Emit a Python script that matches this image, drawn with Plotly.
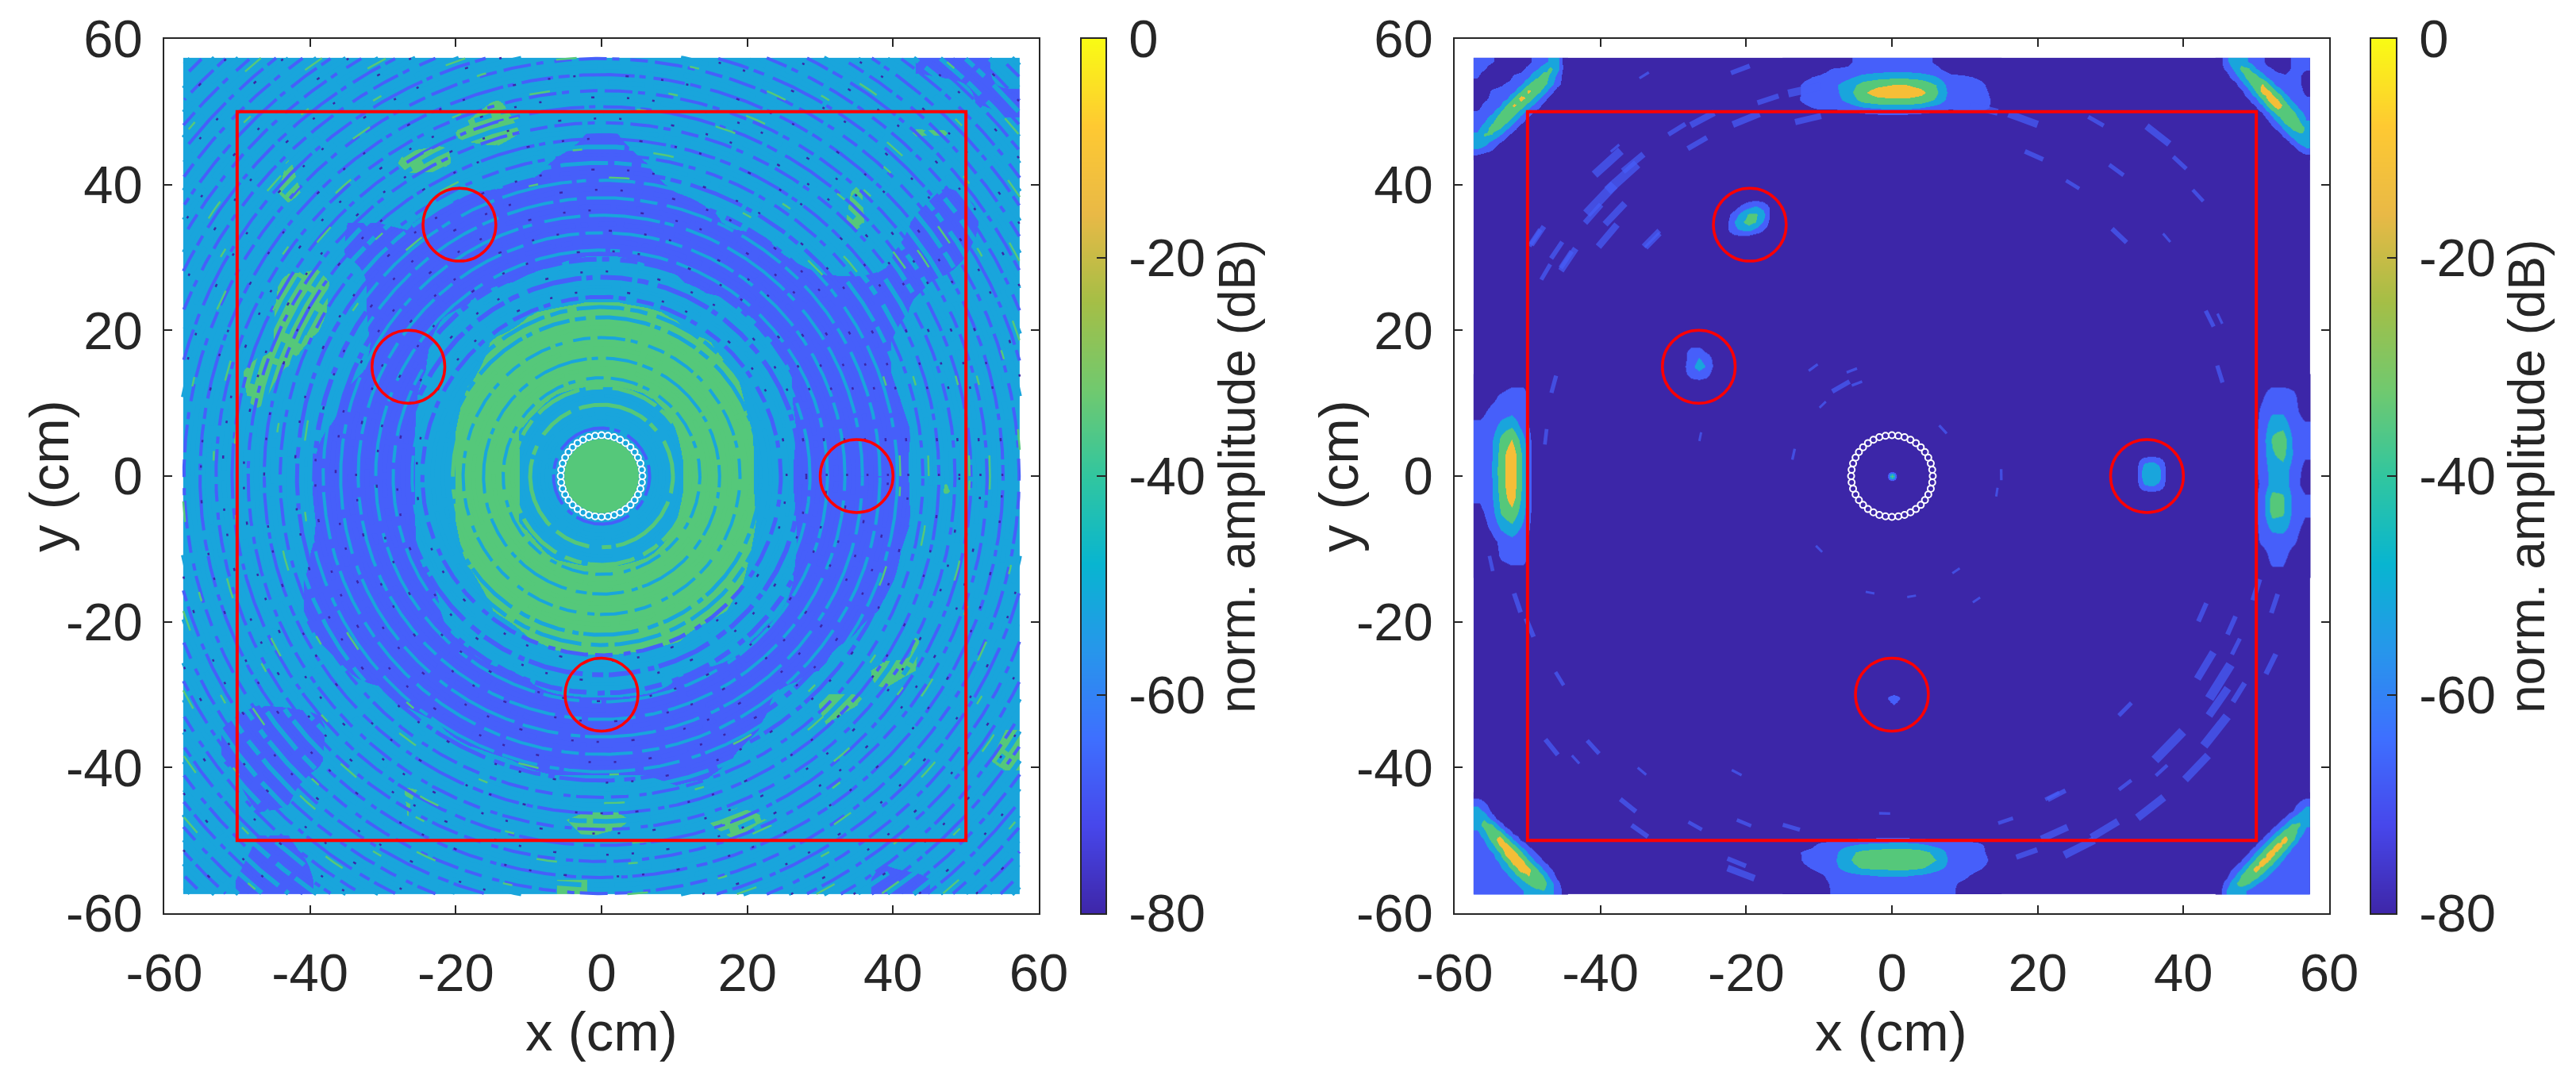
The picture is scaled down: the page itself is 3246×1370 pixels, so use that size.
# plot.py
import numpy as np
import plotly.graph_objects as go

W, H = 3246, 1370
TEXT = '#262626'

# smooth ramp for the colour bars
parula = [
    [0.0, 'rgb(62,38,168)'], [0.1, 'rgb(71,71,235)'], [0.2, 'rgb(62,111,255)'],
    [0.3, 'rgb(39,150,235)'], [0.4, 'rgb(8,181,208)'], [0.5, 'rgb(49,198,159)'],
    [0.6, 'rgb(113,201,110)'], [0.7, 'rgb(165,190,70)'], [0.8, 'rgb(233,185,70)'],
    [0.9, 'rgb(254,201,50)'], [1.0, 'rgb(249,251,20)'],
]
# the images themselves only show a few flat colour levels
level_edges = [-80, -72, -57, -42, -24, 0]
level_colours = ['rgb(60,38,168)', 'rgb(70,95,250)', 'rgb(25,165,220)', 'rgb(85,200,122)', 'rgb(245,190,55)']

ticks = [-60, -40, -20, 0, 20, 40, 60]
tick_text = ['-60', '-40', '-20', '0', '20', '40', '60']
cbar_ticks = [-80, -60, -40, -20, 0]
cbar_text = ['-80', '-60', '-40', '-20', '0']
image_half = 57.4

# red markers, same in both panels
red_cx = [-19.5, -26.5, 35, 0]
red_cy = [34.5, 15, 0, -30]
red_radius = 5
box_half = 50
disc_radius = 5.1

# circular array
array_x = [5.6, 5.53, 5.33, 4.99, 4.53, 3.96, 3.29, 2.54, 1.73, 0.88, 0, -0.88, -1.73, -2.54, -3.29, -3.96, -4.53, -4.99, -5.33, -5.53,
           -5.6, -5.53, -5.33, -4.99, -4.53, -3.96, -3.29, -2.54, -1.73, -0.88, 0, 0.88, 1.73, 2.54, 3.29, 3.96, 4.53, 4.99, 5.33, 5.53]
array_y = [0, 0.88, 1.73, 2.54, 3.29, 3.96, 4.53, 4.99, 5.33, 5.53, 5.6, 5.53, 5.33, 4.99, 4.53, 3.96, 3.29, 2.54, 1.73, 0.88,
           0, -0.88, -1.73, -2.54, -3.29, -3.96, -4.53, -4.99, -5.33, -5.53, -5.6, -5.53, -5.33, -4.99, -4.53, -3.96, -3.29, -2.54, -1.73, -0.88]

# left panel: broad level, top row first, 4.1 cm cells
left_z = [
    [-54, -53, -54, -54, -52, -50, -47, -45, -45, -48, -52, -54, -55, -57, -55, -53, -51, -52, -50, -48, -49, -51, -54, -56, -57, -58, -58, -56],
    [-50, -51, -54, -54, -52, -49, -47, -47, -46, -45, -41, -47, -52, -54, -53, -50, -48, -48, -49, -49, -50, -52, -54, -53, -50, -52, -57, -58],
    [-46, -50, -53, -52, -51, -50, -49, -48, -45, -40, -36, -44, -53, -57, -57, -53, -50, -50, -51, -52, -52, -53, -52, -50, -41, -41, -54, -56],
    [-47, -52, -53, -41, -50, -52, -50, -38, -38, -47, -50, -54, -58, -60, -60, -57, -54, -54, -55, -54, -52, -53, -50, -50, -50, -52, -55, -52],
    [-50, -50, -50, -38, -48, -54, -54, -50, -52, -57, -58, -59, -60, -60, -60, -59, -57, -56, -56, -54, -54, -52, -40, -50, -54, -58, -56, -50],
    [-48, -53, -56, -50, -54, -57, -57, -56, -61, -64, -62, -60, -60, -60, -60, -60, -60, -58, -56, -56, -54, -50, -38, -52, -58, -62, -58, -48],
    [-50, -54, -56, -52, -50, -58, -60, -60, -63, -65, -62, -60, -59, -58, -58, -59, -60, -60, -60, -58, -56, -54, -53, -56, -60, -60, -56, -50],
    [-52, -52, -50, -38, -36, -52, -60, -60, -60, -60, -58, -56, -54, -50, -50, -54, -56, -60, -60, -60, -59, -58, -58, -58, -58, -56, -54, -52],
    [-52, -50, -48, -37, -38, -52, -60, -60, -58, -56, -50, -43, -40, -38, -38, -40, -44, -52, -56, -60, -60, -60, -60, -60, -56, -54, -54, -54],
    [-50, -50, -46, -38, -44, -54, -58, -60, -56, -48, -40, -37, -36, -35, -35, -35, -37, -41, -48, -56, -60, -62, -60, -58, -52, -50, -54, -56],
    [-48, -46, -38, -43, -50, -56, -58, -60, -55, -44, -38, -36, -36, -37, -37, -36, -35, -37, -42, -52, -58, -62, -62, -58, -52, -44, -52, -56],
    [-50, -46, -40, -48, -52, -58, -60, -60, -50, -40, -37, -38, -44, -47, -47, -44, -38, -35, -39, -50, -58, -62, -62, -60, -54, -50, -52, -54],
    [-52, -52, -50, -52, -56, -60, -62, -60, -48, -38, -37, -44, -52, -54, -54, -52, -42, -35, -37, -46, -57, -62, -63, -62, -56, -52, -52, -54],
    [-54, -54, -52, -48, -58, -64, -63, -60, -48, -38, -36, -44, -50, -50, -50, -50, -44, -35, -36, -46, -58, -62, -64, -63, -55, -44, -48, -52],
    [-54, -54, -52, -44, -60, -66, -63, -60, -48, -38, -36, -44, -50, -50, -50, -50, -44, -35, -36, -46, -58, -62, -65, -64, -55, -41, -48, -52],
    [-52, -54, -52, -46, -58, -64, -62, -60, -48, -38, -37, -44, -52, -54, -54, -52, -42, -35, -36, -45, -57, -62, -64, -62, -56, -48, -52, -54],
    [-52, -52, -50, -54, -58, -60, -62, -60, -50, -40, -37, -38, -45, -48, -48, -44, -38, -35, -38, -46, -57, -62, -62, -60, -54, -52, -54, -54],
    [-50, -48, -52, -56, -58, -60, -62, -62, -56, -44, -38, -35, -35, -36, -36, -35, -35, -36, -40, -48, -58, -62, -60, -58, -54, -52, -52, -52],
    [-46, -42, -52, -56, -58, -60, -62, -62, -58, -48, -41, -36, -34, -34, -34, -34, -35, -38, -44, -54, -60, -62, -60, -56, -52, -50, -50, -50],
    [-50, -42, -52, -56, -57, -58, -60, -62, -60, -56, -50, -43, -38, -37, -37, -38, -41, -48, -54, -60, -62, -60, -56, -50, -41, -50, -52, -52],
    [-52, -50, -54, -56, -56, -57, -58, -60, -60, -60, -58, -56, -50, -48, -48, -50, -56, -58, -60, -60, -60, -56, -46, -38, -42, -52, -52, -50],
    [-52, -54, -56, -56, -56, -56, -56, -58, -60, -62, -60, -60, -59, -58, -58, -59, -60, -60, -60, -58, -52, -38, -41, -45, -50, -52, -50, -46],
    [-54, -58, -62, -60, -58, -54, -54, -54, -56, -60, -62, -62, -61, -60, -60, -60, -62, -62, -60, -56, -50, -43, -46, -50, -50, -50, -46, -42],
    [-54, -58, -62, -60, -58, -52, -52, -52, -52, -54, -56, -58, -60, -60, -60, -60, -62, -62, -56, -52, -48, -45, -50, -50, -50, -48, -44, -40],
    [-50, -54, -60, -58, -54, -52, -50, -41, -44, -52, -52, -54, -54, -54, -54, -54, -56, -54, -48, -46, -48, -50, -52, -52, -52, -50, -48, -46],
    [-50, -52, -56, -56, -53, -52, -50, -42, -50, -52, -52, -52, -44, -38, -38, -48, -48, -42, -38, -42, -50, -52, -54, -54, -54, -54, -52, -50],
    [-52, -54, -58, -58, -55, -53, -52, -52, -53, -54, -54, -52, -50, -44, -50, -52, -50, -46, -44, -50, -52, -54, -56, -56, -54, -54, -54, -52],
    [-54, -56, -60, -62, -56, -52, -46, -46, -50, -52, -52, -50, -42, -42, -50, -52, -52, -50, -50, -52, -54, -54, -56, -58, -58, -56, -56, -54],
]

# left panel: concentric fringes, radius in cm and level in dB
ring_radii = [6.6, 7.6, 8.6, 9.8, 11, 12.2, 13.5, 14.8, 16.2, 17.6, 19, 20.4, 21.8, 23.2, 24.6, 26, 27.3, 28.6, 29.8, 31, 32.2, 33.4, 34.6,
              35.8, 37, 38.2, 39.4, 40.6, 41.8, 43, 44.1, 45.2, 46.3, 47.4, 48.5, 49.6, 50.7, 51.8, 52.9, 54, 55.1, 56.2, 57.3, 58.4, 59.5,
              60.6, 61.7, 62.8, 63.9, 65, 66.1, 67.2, 68.3, 69.4, 70.5, 71.6, 72.7, 73.8, 74.9, 76, 77.1, 78.2, 79.3, 80.4]
ring_db = [-60, -45, -55, -36, -50, -35, -48, -34, -46, -34, -46, -36, -50, -44, -60, -50, -66, -50, -66, -50, -66, -50, -66,
           -50, -66, -50, -66, -50, -64, -48, -66, -48, -66, -46, -66, -46, -66, -46, -66, -46, -66, -46, -66, -46, -66,
           -46, -66, -46, -66, -46, -66, -46, -66, -46, -66, -46, -66, -46, -66, -46, -66, -46, -66, -46]
ring_widths = [4, 4, 4, 5, 4, 5, 4, 5, 4, 5, 4, 5, 5, 5, 5, 4, 6, 4, 6, 4, 6, 4, 6,
               4, 6, 4, 6, 4, 5, 5, 4, 6, 4, 6, 4, 6, 4, 6, 4, 6, 4, 6, 4, 6, 4,
               6, 4, 6, 4, 6, 4, 6, 4, 6, 4, 6, 4, 6, 4, 6, 4, 6, 4, 6]
ring_dashes = ['14px,7px,40px,10px,8px,6px,70px,12px', '60px,12px,22px,8px', '22px,14px,9px,7px,35px,9px', '46px,16px,12px,6px,90px,11px']

# left panel: dark specks and bright streaks along the fringes
speck_ring_radii = [25.4, 28.1, 30.9, 33.7, 36.5, 39.3, 42.1, 46.3, 49.1, 52, 55, 59, 63, 67, 72, 77]
streak_ring_radii = [12.8, 15.5, 18.3, 41, 44.9, 50.5, 53.3, 57.5, 60.3, 64.5, 69, 74]

# right panel: hot spots, top row first
top_z = [
    [-80, -80, -80, -80, -74, -66, -66, -66, -66, -66, -74, -80, -80, -80, -80],
    [-80, -80, -78, -70, -70, -66, -64, -62, -62, -66, -68, -78, -80, -80, -80],
    [-80, -74, -70, -66, -60, -52, -48, -46, -46, -48, -56, -68, -70, -74, -80],
    [-78, -70, -66, -60, -50, -35, -28, -24, -24, -30, -42, -64, -66, -68, -78],
    [-78, -70, -66, -62, -48, -28, -14, -10, -10, -18, -38, -62, -64, -66, -76],
    [-76, -70, -66, -64, -52, -36, -30, -28, -28, -32, -44, -64, -64, -66, -74],
    [-80, -74, -70, -70, -66, -58, -54, -52, -52, -56, -64, -70, -66, -68, -74],
    [-80, -80, -78, -80, -80, -76, -74, -74, -74, -76, -78, -80, -76, -74, -78],
]
bottom_z = [
    [-80, -80, -78, -78, -76, -76, -74, -74, -74, -76, -76, -78, -78, -78, -80],
    [-80, -78, -70, -66, -60, -54, -52, -50, -50, -54, -62, -66, -66, -70, -78],
    [-78, -70, -68, -62, -46, -38, -36, -35, -35, -37, -46, -62, -64, -68, -78],
    [-80, -70, -66, -60, -44, -34, -31, -30, -30, -32, -42, -60, -62, -66, -76],
    [-80, -74, -68, -62, -48, -40, -38, -36, -36, -40, -50, -62, -66, -70, -78],
    [-80, -78, -74, -68, -62, -58, -56, -56, -56, -58, -64, -68, -70, -76, -80],
    [-80, -80, -76, -70, -70, -66, -66, -64, -64, -66, -68, -70, -74, -80, -80],
    [-80, -80, -78, -70, -70, -66, -66, -66, -66, -66, -66, -70, -76, -80, -80],
]
left_edge_z = [
    [-80, -80, -80, -76, -76, -80], [-80, -76, -70, -66, -66, -80], [-76, -70, -66, -62, -66, -80], [-70, -68, -52, -46, -64, -80],
    [-66, -62, -38, -24, -52, -80], [-66, -62, -34, -10, -46, -80], [-66, -60, -32, -10, -46, -80], [-66, -62, -32, -10, -46, -80],
    [-70, -62, -36, -14, -48, -80], [-76, -66, -40, -30, -52, -80], [-80, -70, -54, -46, -60, -80], [-80, -78, -68, -62, -68, -80],
    [-80, -80, -70, -66, -66, -80], [-80, -80, -78, -76, -76, -80],
]
right_edge_z = [
    [-80, -76, -76, -76, -76, -80], [-80, -74, -66, -66, -70, -80], [-80, -70, -60, -60, -68, -78], [-80, -68, -48, -48, -66, -70],
    [-80, -66, -40, -32, -62, -68], [-80, -66, -44, -36, -60, -70], [-80, -66, -50, -48, -64, -76], [-80, -70, -50, -48, -66, -78],
    [-80, -66, -36, -40, -62, -70], [-80, -66, -36, -40, -62, -70], [-80, -68, -52, -50, -66, -76], [-80, -70, -66, -66, -70, -80],
    [-80, -78, -68, -68, -78, -80], [-80, -76, -74, -74, -80, -80],
]
corner_tl_z = [
    [-66, -66, -70, -80, -80, -80, -80, -78, -66, -62, -54, -52, -80],
    [-66, -70, -80, -80, -80, -80, -78, -66, -60, -50, -38, -50, -80],
    [-70, -80, -80, -80, -80, -70, -66, -60, -48, -34, -44, -62, -80],
    [-80, -80, -80, -76, -70, -66, -60, -46, -28, -34, -50, -66, -80],
    [-80, -80, -70, -66, -66, -60, -44, -20, -30, -48, -64, -80, -80],
    [-80, -76, -68, -66, -60, -42, -16, -30, -48, -64, -78, -80, -80],
    [-78, -68, -66, -60, -40, -20, -32, -48, -62, -76, -80, -80, -80],
    [-70, -66, -60, -44, -26, -34, -50, -64, -76, -80, -80, -80, -80],
    [-66, -60, -48, -30, -36, -50, -66, -76, -80, -80, -80, -80, -80],
    [-62, -50, -36, -38, -52, -66, -78, -80, -80, -80, -80, -80, -80],
    [-54, -40, -42, -54, -68, -78, -80, -80, -80, -80, -80, -80, -80],
    [-46, -48, -60, -70, -78, -80, -80, -80, -80, -80, -80, -80, -80],
    [-56, -62, -70, -80, -80, -80, -80, -80, -80, -80, -80, -80, -80],
    [-76, -80, -80, -80, -80, -80, -80, -80, -80, -80, -80, -80, -80],
]
corner_tr_z = [
    [-80, -60, -48, -46, -58, -66, -70, -80, -80, -80, -70, -66, -66],
    [-80, -68, -54, -38, -40, -56, -66, -70, -76, -78, -70, -66, -70],
    [-80, -78, -64, -48, -34, -36, -52, -64, -68, -70, -66, -70, -80],
    [-80, -80, -78, -62, -46, -28, -24, -46, -64, -66, -66, -70, -80],
    [-80, -80, -80, -74, -60, -40, -14, -24, -46, -62, -66, -66, -78],
    [-80, -80, -80, -80, -70, -58, -36, -12, -26, -48, -62, -66, -70],
    [-80, -80, -80, -80, -80, -70, -56, -30, -12, -34, -50, -62, -66],
    [-80, -80, -80, -80, -80, -80, -70, -54, -34, -26, -36, -52, -62],
    [-80, -80, -80, -80, -80, -80, -80, -68, -52, -34, -30, -42, -58],
    [-80, -80, -80, -80, -80, -80, -80, -78, -66, -50, -38, -34, -46],
    [-80, -80, -80, -80, -80, -80, -80, -80, -80, -64, -50, -44, -42],
    [-80, -80, -80, -80, -80, -80, -80, -80, -80, -80, -66, -52, -46],
    [-80, -80, -80, -80, -80, -80, -80, -80, -80, -80, -80, -68, -58],
    [-80, -80, -80, -80, -80, -80, -80, -80, -80, -80, -80, -80, -76],
]
corner_bl_z = [
    [-76, -80, -80, -80, -80, -80, -80, -80, -80, -80, -80, -80, -80],
    [-62, -70, -80, -80, -80, -80, -80, -80, -80, -80, -80, -80, -80],
    [-50, -60, -76, -80, -80, -80, -80, -80, -80, -80, -80, -80, -80],
    [-42, -44, -64, -80, -80, -80, -80, -80, -80, -80, -80, -80, -80],
    [-50, -36, -38, -62, -78, -80, -80, -80, -80, -80, -80, -80, -80],
    [-60, -46, -28, -36, -60, -76, -80, -80, -80, -80, -80, -80, -80],
    [-66, -56, -36, -14, -34, -58, -74, -80, -80, -80, -80, -80, -80],
    [-66, -62, -50, -26, -12, -34, -56, -70, -80, -80, -80, -80, -80],
    [-66, -66, -60, -46, -16, -12, -34, -56, -70, -80, -80, -80, -80],
    [-66, -66, -62, -56, -40, -14, -14, -36, -58, -70, -80, -80, -80],
    [-66, -70, -66, -60, -52, -36, -14, -18, -38, -58, -70, -80, -80],
    [-70, -66, -66, -66, -60, -50, -36, -24, -26, -42, -62, -76, -80],
    [-66, -70, -66, -70, -66, -60, -50, -40, -32, -34, -50, -68, -80],
    [-66, -66, -70, -66, -70, -66, -60, -52, -46, -42, -50, -66, -76],
]
corner_br_z = [
    [-80, -80, -80, -80, -80, -80, -80, -80, -80, -80, -80, -80, -76],
    [-80, -80, -80, -80, -80, -80, -80, -80, -80, -80, -80, -70, -62],
    [-80, -80, -80, -80, -80, -80, -80, -80, -80, -80, -74, -60, -50],
    [-80, -80, -80, -80, -80, -80, -80, -80, -80, -70, -56, -44, -50],
    [-80, -80, -80, -80, -80, -80, -80, -80, -70, -54, -38, -40, -56],
    [-80, -80, -80, -80, -80, -80, -80, -70, -52, -32, -28, -50, -62],
    [-80, -80, -80, -80, -80, -80, -70, -52, -32, -16, -36, -58, -66],
    [-80, -80, -80, -80, -80, -70, -52, -32, -14, -32, -56, -66, -66],
    [-80, -80, -80, -80, -70, -52, -34, -14, -30, -54, -64, -66, -70],
    [-80, -80, -80, -70, -54, -34, -14, -28, -52, -62, -66, -70, -66],
    [-80, -80, -70, -56, -36, -16, -30, -50, -60, -66, -70, -66, -66],
    [-80, -76, -60, -40, -26, -34, -50, -60, -66, -70, -66, -70, -66],
    [-80, -66, -46, -34, -40, -54, -62, -66, -70, -66, -70, -66, -66],
    [-80, -56, -44, -50, -60, -66, -70, -66, -66, -70, -66, -66, -66],
]
spot_a_z = [
    [-80, -80, -80, -76, -74, -76, -80],
    [-80, -80, -68, -60, -54, -62, -74],
    [-78, -66, -52, -40, -40, -50, -74],
    [-76, -58, -44, -36, -42, -58, -76],
    [-74, -62, -54, -50, -60, -70, -80],
    [-80, -76, -74, -76, -80, -80, -80],
]
spot_b_z = [
    [-80, -76, -76, -80, -80], [-76, -66, -66, -74, -80], [-76, -64, -56, -62, -76],
    [-74, -60, -52, -58, -74], [-76, -64, -60, -66, -78], [-80, -76, -74, -76, -80],
]
spot_c_z = [
    [-80, -76, -74, -76, -80], [-76, -58, -54, -60, -76], [-74, -50, -48, -52, -74],
    [-74, -50, -48, -52, -74], [-76, -58, -54, -60, -76], [-80, -76, -74, -76, -80],
]
spot_d_z = [
    [-80, -76, -74, -76, -80], [-80, -70, -66, -70, -80], [-80, -74, -68, -74, -80], [-80, -80, -76, -80, -80],
]
spot_centre_z = [
    [-80, -76, -74, -76, -80], [-76, -52, -42, -52, -76], [-74, -42, -33, -42, -74],
    [-76, -52, -42, -52, -76], [-80, -76, -74, -76, -80],
]

# right panel: faint streaks, position in cm and length in px
speck_x = [-39, -37, -35.5, -40, -38, -41, -39, -33, -44.7, -46, -48.6, -47.5, -26.7, -20, -20.8, -11.5, -12, -17, -26, -29.5, -34, -38,
           18, 12.6, 28, 19.5, 36.5, 30.8, 39.5, 24.8, 31.2, 37.7, 42, -49, -44.4, -32.8,
           -7, -5.5, -4.8, -10.8, -9.5, -26.3, 7, -13.5, 15, 14.4, 8.8, 2.7, 11.6, -10, -3,
           43, 45, 44.8, 47.6, 52, 50, 52.5, 46.6, 47.2, 42.6, 32, 38, 44.4, 41.8, 35.5, 22.6, 22.3, 29.2, 25.7, 18.5, 37, 32, 15.6,
           -46.7, -41, -45.6, -43.4, -34.3, -21.3, -36.2, -34.6, -27, -20.3, -13.8, -20.7, -21.3, 22, -1,
           -51.4, -49.7, -47.5, -46.4, -55, 45, 43.6, 45]
speck_y = [43, 41, 43, 38, 36, 36, 33, 32.6, 29.7, 31, 33, 28, 45.7, 49, 55.8, 49, 53, 51.7, 49, 47.6, 55, 45,
           49, 50.4, 48.7, 44, 46.8, 42, 43, 40, 33, 32.7, 38.5, 32.7, 29.7, 32.3,
           12.3, 14.5, 12.7, 14.9, 9.8, 5.4, 6.4, 3, 0.2, -2.2, -13, -16.5, -17, -10, -16,
           -26, -28.2, -31, -29.7, -25.8, -15.6, -17.5, -20.5, -23.4, -18.7, -32, -37, -35, -40, -45.5, -43.8, -49, -48.5, -51, -51.8, -40.4, -42.4, -47.3,
           -37.2, -37.2, -27.8, -38.9, -40.5, -40.7, -45.2, -48.7, -48, -47.6, -48.2, -54.5, -53, -43.9, -46.3,
           -17.4, -20.8, 5.4, 12.6, -12, 21.6, 21.6, 14]
speck_size = [32, 36, 24, 36, 26, 22, 26, 20, 18, 18, 20, 16, 20, 26, 18, 24, 30, 20, 24, 18, 10, 10,
              28, 26, 16, 18, 26, 16, 16, 14, 18, 10, 14, 18, 24, 18,
              18, 10, 10, 10, 8, 8, 10, 10, 10, 8, 8, 8, 8, 8, 8,
              28, 36, 30, 20, 20, 20, 18, 18, 16, 18, 16, 36, 34, 30, 30, 18, 26, 28, 30, 20, 14, 14, 14,
              18, 16, 14, 10, 10, 10, 18, 18, 14, 14, 16, 26, 18, 14, 10,
              18, 18, 14, 16, 14, 10, 16, 16]


def level_colour(db):
    for edge, colour in zip(level_edges[1:], level_colours):
        if db < edge:
            return colour
    return level_colours[-1]


def stepped_scale():
    scale = []
    for i, colour in enumerate(level_colours):
        scale.append([(level_edges[i] + 80) / 80, colour])
        scale.append([(level_edges[i + 1] + 80) / 80, colour])
    return scale


def add_patch(fig, z, x_left, y_top, dx, dy, xaxis, yaxis, coloraxis):
    # z comes top row first
    n_rows = len(z)
    fig.add_trace(go.Heatmap(
        z=z[::-1],
        x0=x_left + dx / 2, dx=dx,
        y0=y_top - dy * (n_rows - 0.5), dy=dy,
        zsmooth='best',
        xaxis=xaxis, yaxis=yaxis, coloraxis=coloraxis,
        hoverinfo='skip'
    ))


theta = np.linspace(0, 2 * np.pi, 1400)


def add_ring(fig, radius, colour, width, dash):
    rx = radius * np.cos(theta)
    ry = radius * np.sin(theta)
    outside = (np.abs(rx) > image_half) | (np.abs(ry) > image_half)
    rx[outside] = np.nan
    ry[outside] = np.nan
    fig.add_trace(go.Scatter(
        x=rx, y=ry, mode='lines', line=dict(color=colour, width=width, dash=dash),
        xaxis='x', yaxis='y', hoverinfo='skip', showlegend=False
    ))


fig = go.Figure()

# Left panel
add_patch(fig, left_z, -image_half, image_half, 4.1, 4.1, 'x', 'y', 'coloraxis')

for i, radius in enumerate(ring_radii):
    add_ring(fig, radius, level_colour(ring_db[i]), ring_widths[i], ring_dashes[i % len(ring_dashes)])
for radius in streak_ring_radii:
    add_ring(fig, radius, level_colour(-34), 2.5, '26px,90px,12px,150px')
for radius in speck_ring_radii:
    add_ring(fig, radius, level_colour(-76), 2.5, '3px,41px,4px,63px,3px,29px')

# Right panel
add_patch(fig, [[-80, -80], [-80, -80]], -image_half, image_half, image_half, image_half, 'x2', 'y2', 'coloraxis')
add_patch(fig, top_z, -15, image_half, 2, 1.05, 'x2', 'y2', 'coloraxis')
add_patch(fig, bottom_z, -15, -49, 2, 1.05, 'x2', 'y2', 'coloraxis')
add_patch(fig, left_edge_z, -image_half, 14, 1.5, 2, 'x2', 'y2', 'coloraxis')
add_patch(fig, right_edge_z, 48.4, 14, 1.5, 2, 'x2', 'y2', 'coloraxis')
add_patch(fig, corner_tl_z, -image_half, image_half, 1, 1, 'x2', 'y2', 'coloraxis')
add_patch(fig, corner_tr_z, 44.4, image_half, 1, 1, 'x2', 'y2', 'coloraxis')
add_patch(fig, corner_bl_z, -image_half, -43.4, 1, 1, 'x2', 'y2', 'coloraxis')
add_patch(fig, corner_br_z, 44.4, -43.4, 1, 1, 'x2', 'y2', 'coloraxis')
add_patch(fig, spot_a_z, -23.2, 38.4, 1, 1, 'x2', 'y2', 'coloraxis')
add_patch(fig, spot_b_z, -29, 18.6, 1, 1, 'x2', 'y2', 'coloraxis')
add_patch(fig, spot_c_z, 33.1, 3.3, 1, 1, 'x2', 'y2', 'coloraxis')
add_patch(fig, spot_d_z, -1.5, -29.5, 0.7, 0.6, 'x2', 'y2', 'coloraxis')
add_patch(fig, spot_centre_z, -0.75, 0.75, 0.3, 0.3, 'x2', 'y2', 'coloraxis')

# streaks follow the fringes, so they lie across the radius
speck_angle = [-(np.degrees(np.arctan2(y, x)) + 90) for x, y in zip(speck_x, speck_y)]
fig.add_trace(go.Scatter(
    x=speck_x, y=speck_y, mode='markers',
    marker=dict(symbol='line-ew', size=speck_size, angle=speck_angle,
                line=dict(color=level_colours[1], width=[max(3, s / 3) for s in speck_size])),
    xaxis='x2', yaxis='y2', hoverinfo='skip', showlegend=False
))

# Colour bars
ramp = [[v] for v in np.linspace(-80, 0, 256)]
for xa, ya in [('x3', 'y3'), ('x4', 'y4')]:
    fig.add_trace(go.Heatmap(
        z=ramp, x0=0, dx=1, y0=-80, dy=80 / 255, zsmooth='best',
        xaxis=xa, yaxis=ya, coloraxis='coloraxis2', hoverinfo='skip'
    ))

# Array rings on both panels
for xa, ya in [('x', 'y'), ('x2', 'y2')]:
    fig.add_trace(go.Scatter(
        x=array_x, y=array_y, mode='markers',
        marker=dict(symbol='circle-open', color='white', size=8, line=dict(color='white', width=2)),
        xaxis=xa, yaxis=ya, hoverinfo='skip', showlegend=False
    ))

shapes = [dict(
    type='circle', xref='x', yref='y', x0=-disc_radius, x1=disc_radius, y0=-disc_radius, y1=disc_radius,
    fillcolor=level_colours[3], line=dict(width=0), layer='above'
)]
for xa, ya in [('x', 'y'), ('x2', 'y2')]:
    shapes.append(dict(type='rect', xref=xa, yref=ya, x0=-box_half, x1=box_half, y0=-box_half, y1=box_half,
                       line=dict(color='#ff0000', width=4), layer='above'))
    for cx, cy in zip(red_cx, red_cy):
        shapes.append(dict(type='circle', xref=xa, yref=ya,
                           x0=cx - red_radius, x1=cx + red_radius, y0=cy - red_radius, y1=cy + red_radius,
                           line=dict(color='#ff0000', width=3.5), layer='above'))


def axis_style(domain, anchor, standoff):
    return dict(
        domain=domain, anchor=anchor, range=[-60, 60], tickvals=ticks, ticktext=tick_text, ticks='inside',
        ticklen=10, tickwidth=1.5, tickcolor=TEXT, showgrid=False, zeroline=False,
        showline=True, linecolor=TEXT, linewidth=1.5, mirror='ticks', automargin=False,
        ticklabelstandoff=standoff, tickfont=dict(size=67, color=TEXT)
    )


def bar_x(domain, anchor):
    return dict(domain=domain, anchor=anchor, range=[-0.5, 0.5], showticklabels=False, ticks='', showgrid=False,
                zeroline=False, showline=True, linecolor=TEXT, linewidth=1.5, mirror=True, automargin=False)


def bar_y(domain, anchor):
    return dict(domain=domain, anchor=anchor, side='right', range=[-80, 0], tickvals=cbar_ticks, ticktext=cbar_text,
                ticks='inside', ticklen=11, tickwidth=1.5, tickcolor=TEXT, showgrid=False, zeroline=False,
                showline=True, linecolor=TEXT, linewidth=1.5, mirror=True, automargin=False,
                ticklabelstandoff=14, tickfont=dict(size=67, color=TEXT))


def label(text, px, py, angle=0, size=69):
    return dict(text=text, xref='paper', yref='paper', x=px / W, y=1 - py / H, xanchor='center', yanchor='middle',
                textangle=angle, showarrow=False, font=dict(size=size, color=TEXT))


y_domain = [1 - 1151 / H, 1 - 49 / H]
fig.update_layout(
    width=W, height=H, autosize=False,
    margin=dict(l=0, r=0, t=0, b=0),
    paper_bgcolor='white', plot_bgcolor='white',
    font=dict(family='Liberation Sans', color=TEXT, size=65),
    showlegend=False,
    xaxis=axis_style([207 / W, 1309 / W], 'y', 16),
    yaxis=axis_style(y_domain, 'x', 12),
    xaxis2=axis_style([1833 / W, 2935 / W], 'y2', 16),
    yaxis2=axis_style(y_domain, 'x2', 12),
    xaxis3=bar_x([1363 / W, 1393 / W], 'y3'),
    yaxis3=bar_y(y_domain, 'x3'),
    xaxis4=bar_x([2988 / W, 3019 / W], 'y4'),
    yaxis4=bar_y(y_domain, 'x4'),
    coloraxis=dict(cmin=-80, cmax=0, colorscale=stepped_scale(), showscale=False),
    coloraxis2=dict(cmin=-80, cmax=0, colorscale=parula, showscale=False),
    shapes=shapes,
    annotations=[
        label('x (cm)', 758, 1300), label('x (cm)', 2383, 1300),
        label('y (cm)', 62, 600, -90), label('y (cm)', 1687, 600, -90),
        label('norm. amplitude (dB)', 1559, 600, -90, 64), label('norm. amplitude (dB)', 3184, 600, -90, 64),
    ],
)

fig.write_html("out.html", config={'displayModeBar': False},
               post_script="document.body.style.margin='0';document.body.style.overflow='hidden';")
